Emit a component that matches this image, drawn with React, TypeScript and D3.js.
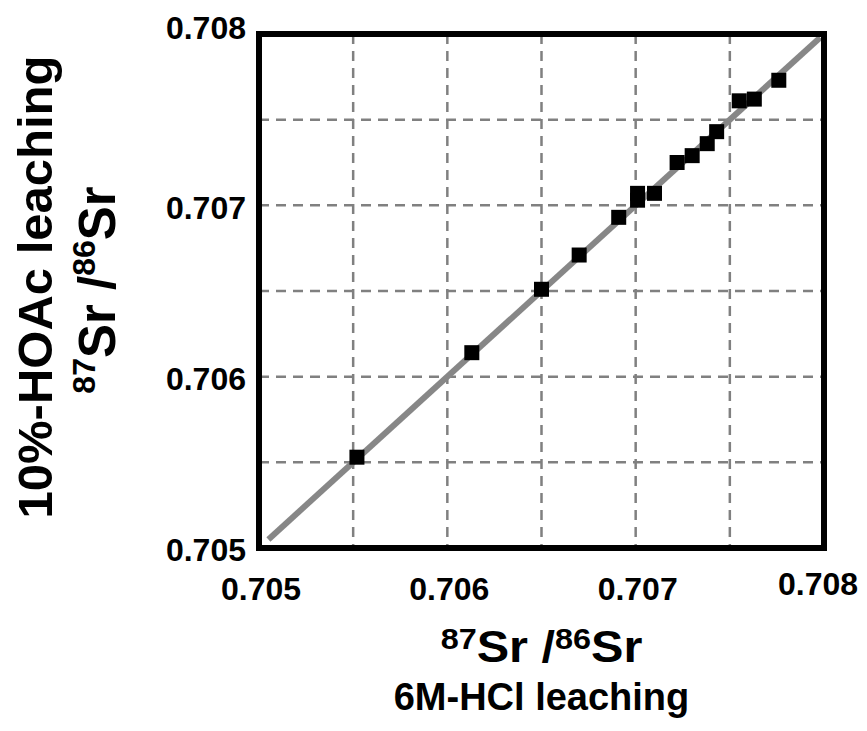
import { useEffect, useRef } from 'react'
import * as d3 from 'd3'

// 87Sr/86Sr ratios, 6M-HCl leaching (x) vs 10%-HOAc leaching (y)
const hclRatios = [0.70552, 0.70613, 0.7065, 0.7067, 0.70691, 0.70701, 0.70701, 0.7071, 0.70722, 0.7073, 0.70738, 0.70743, 0.70755, 0.70763, 0.70776]
const hoacRatios = [0.70553, 0.70614, 0.70651, 0.70671, 0.70693, 0.70703, 0.70707, 0.70707, 0.70725, 0.70729, 0.70736, 0.70743, 0.70761, 0.70762, 0.70773]

const axisDomain = [0.705, 0.708]
const tickValues = [0.705, 0.706, 0.707, 0.708]
const gridValues = [0.7055, 0.706, 0.7065, 0.707, 0.7075]
const oneToOne = [0.70505, 0.70798]

const FONT = '"Liberation Sans", Arial, Helvetica, sans-serif'

export default function App() {
  const svgRef = useRef<SVGSVGElement>(null)

  useEffect(() => {
    if (!svgRef.current) return
    const svg = d3.select(svgRef.current)
    svg.selectAll('*').remove()

    const width = 867
    const height = 731
    const plot = { left: 259, right: 824, top: 34, bottom: 548 }

    svg.attr('width', width).attr('height', height)

    svg.append('rect').attr('width', width).attr('height', height).style('fill', '#ffffff')

    const x = d3.scaleLinear().domain(axisDomain).range([plot.left, plot.right])
    const y = d3.scaleLinear().domain(axisDomain).range([plot.bottom, plot.top])

    // dashed grid
    const grid = svg.append('g')
      .style('stroke', '#808080')
      .style('stroke-width', 2.5)
      .style('stroke-dasharray', '10,7')

    grid.selectAll('.vgrid')
      .data(gridValues)
      .enter().append('line')
      .attr('x1', d => x(d)).attr('x2', d => x(d))
      .attr('y1', plot.top).attr('y2', plot.bottom)

    grid.selectAll('.hgrid')
      .data(gridValues)
      .enter().append('line')
      .attr('y1', d => y(d)).attr('y2', d => y(d))
      .attr('x1', plot.left).attr('x2', plot.right)

    // 1:1 line
    const line = d3.line<number>().x(d => x(d)).y(d => y(d))
    svg.append('path')
      .datum(oneToOne)
      .attr('d', line)
      .style('fill', 'none')
      .style('stroke', '#878787')
      .style('stroke-width', 6)

    // samples
    const pts = hclRatios.map((v, i) => ({ x: v, y: hoacRatios[i] }))
    const size = 15
    svg.selectAll('.pt')
      .data(pts)
      .enter().append('rect')
      .attr('x', d => x(d.x) - size / 2)
      .attr('y', d => y(d.y) - size / 2)
      .attr('width', size)
      .attr('height', size)
      .style('fill', '#000000')

    // frame
    svg.append('rect')
      .attr('x', plot.left).attr('y', plot.top)
      .attr('width', plot.right - plot.left)
      .attr('height', plot.bottom - plot.top)
      .style('fill', 'none')
      .style('stroke', '#000000')
      .style('stroke-width', 6)

    // tick labels
    const fmt = d3.format('.3f')
    svg.selectAll('.ylab')
      .data(tickValues)
      .enter().append('text')
      .attr('x', 246)
      .attr('y', d => y(d) + (d === 0.708 ? -6 : 2))
      .attr('dy', '0.35em')
      .attr('text-anchor', 'end')
      .style('font-family', FONT)
      .style('font-weight', 'bold')
      .style('font-size', '32px')
      .style('fill', '#000')
      .text(d => fmt(d))

    svg.selectAll('.xlab')
      .data(tickValues)
      .enter().append('text')
      .attr('x', d => x(d) + (d === 0.708 ? -6 : 2))
      .attr('y', d => (d === 0.708 ? 595 : 600))
      .attr('text-anchor', 'middle')
      .style('font-family', FONT)
      .style('font-weight', 'bold')
      .style('font-size', '32px')
      .style('fill', '#000')
      .text(d => fmt(d))

    const cx = (plot.left + plot.right) / 2

    // ratio label with superscripts
    const ratioLabel = (g: d3.Selection<SVGTextElement, unknown, null, undefined>, main: number, sup: number, rise: number) => {
      g.append('tspan').attr('dy', -rise).style('font-size', `${sup}px`).text('87')
      g.append('tspan').attr('dy', rise).style('font-size', `${main}px`).text('Sr /')
      g.append('tspan').attr('dy', -rise).style('font-size', `${sup}px`).text('86')
      g.append('tspan').attr('dy', rise).style('font-size', `${main}px`).text('Sr')
    }

    // x title
    const xt1 = svg.append('text')
      .attr('transform', `translate(${cx},662) scale(1.08,1)`)
      .attr('text-anchor', 'middle')
      .style('font-family', FONT)
      .style('font-weight', 'bold')
      .style('fill', '#000')
    ratioLabel(xt1, 45, 30, 13)

    svg.append('text')
      .attr('x', cx).attr('y', 710)
      .attr('text-anchor', 'middle')
      .style('font-family', FONT)
      .style('font-weight', 'bold')
      .style('font-size', '38px')
      .style('fill', '#000')
      .text('6M-HCl leaching')

    // y title
    svg.append('text')
      .attr('transform', 'translate(52,287) rotate(-90)')
      .attr('text-anchor', 'middle')
      .style('font-family', FONT)
      .style('font-weight', 'bold')
      .style('font-size', '49px')
      .style('fill', '#000')
      .text('10%-HOAc leaching')

    const yt2 = svg.append('text')
      .attr('transform', 'translate(115,290) rotate(-90)')
      .attr('text-anchor', 'middle')
      .style('font-family', FONT)
      .style('font-weight', 'bold')
      .style('fill', '#000')
    ratioLabel(yt2, 51, 32, 20)
  }, [])

  return (
    <div style={{ position: 'absolute', left: 0, top: 0 }}>
      <svg ref={svgRef} style={{ display: 'block' }}></svg>
    </div>
  )
}
